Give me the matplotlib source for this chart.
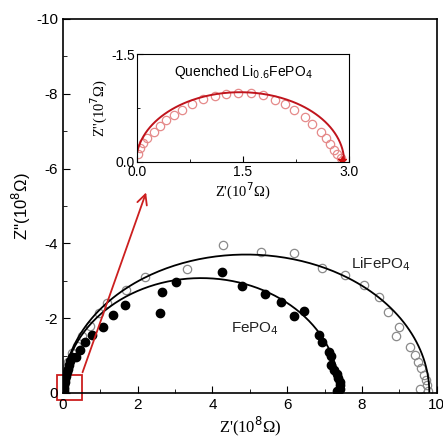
import numpy as np
import matplotlib
matplotlib.use('Agg')
import matplotlib.pyplot as plt
from matplotlib.patches import Rectangle

plt.rcParams['font.family'] = ['Liberation Sans', 'DejaVu Sans']
plt.rcParams['axes.unicode_minus'] = False

# LiFePO4 measured points (Z' in 1e8 ohm, Z'' in 1e8 ohm)
li_x = [0.02, 0.03, 0.05, 0.07, 0.10, 0.14, 0.23, 0.37, 0.50, 0.72, 0.96, 1.19, 1.70, 2.19,
        3.31, 4.27, 5.31, 6.19, 6.92, 7.54, 8.06, 8.45, 8.70, 8.98, 8.92, 9.28, 9.41, 9.50,
        9.59, 9.65, 9.71, 9.75, 9.56, 9.77]
li_y = [-0.10, -0.25, -0.40, -0.55, -0.70, -0.84, -1.06, -1.26, -1.51, -1.79, -2.13, -2.41, -2.75, -3.11,
        -3.31, -3.96, -3.78, -3.75, -3.33, -3.16, -2.89, -2.56, -2.17, -1.77, -1.51, -1.24, -1.02, -0.84,
        -0.66, -0.48, -0.35, -0.21, -0.11, -0.06]

# FePO4 measured points
fe_x = [0.02, 0.03, 0.04, 0.05, 0.06, 0.08, 0.10, 0.13, 0.16, 0.20, 0.25, 0.35, 0.45, 0.59, 0.79,
        1.06, 1.35, 1.66, 2.59, 2.66, 3.02, 4.26, 4.78, 5.40, 5.83, 6.19, 6.44, 6.86, 6.93,
        7.12, 7.17, 7.17, 7.26, 7.32, 7.36, 7.41, 7.42, 7.42, 7.34]
fe_y = [-0.05, -0.12, -0.20, -0.28, -0.36, -0.45, -0.55, -0.65, -0.75, -0.85, -0.95, -0.97, -1.15, -1.35, -1.55,
        -1.77, -2.09, -2.34, -2.15, -2.69, -2.96, -3.24, -2.87, -2.64, -2.44, -2.07, -2.20, -1.55, -1.35,
        -1.10, -0.99, -0.75, -0.62, -0.51, -0.39, -0.30, -0.20, -0.10, -0.04]

# fitted arcs: (centre, x radius, y radius)
li_fit = (4.9, 4.9, 3.7)
fe_fit = (3.7, 3.7, 3.07)

# quenched Li0.6FePO4 (Z' in 1e7 ohm)
q_x = [0.02, 0.04, 0.09, 0.15, 0.24, 0.32, 0.41, 0.53, 0.64, 0.78, 0.93, 1.10, 1.26, 1.43,
       1.61, 1.78, 1.95, 2.09, 2.22, 2.37, 2.48, 2.61, 2.67, 2.73, 2.78, 2.83, 2.88]
q_y = [-0.11, -0.19, -0.26, -0.33, -0.42, -0.50, -0.58, -0.65, -0.72, -0.81, -0.875, -0.92, -0.944, -0.963,
       -0.963, -0.93, -0.86, -0.81, -0.72, -0.63, -0.53, -0.41, -0.33, -0.25, -0.17, -0.11, -0.05]
q_fit = (1.46, 1.47, 0.97)


def arc(p):
    c, rx, ry = p
    t = np.linspace(0, np.pi, 200)
    return c - rx * np.cos(t), -ry * np.sin(t)


fig = plt.figure(figsize=(4.43, 4.40), dpi=100)
ax = fig.add_axes([0.142, 0.107, 0.844, 0.850])

ax.plot(li_x, li_y, 'o', mfc='none', mec='#8a8a8a', ms=6, mew=0.9)
ax.plot(fe_x, fe_y, 'o', color='black', ms=6)
x, y = arc(li_fit)
ax.plot(x, y, color='black', lw=1.3)
x, y = arc(fe_fit)
ax.plot(x, y, color='black', lw=1.3)

ax.text(8.5, -3.45, 'LiFePO$_4$', fontsize=11, ha='center', va='center', color='#222222')
ax.text(5.15, -1.72, 'FePO$_4$', fontsize=11, ha='center', va='center', color='#222222')

ax.add_patch(Rectangle((-0.16, 0.2), 0.66, -0.68, fill=False, ec='#cc1f1f', lw=1.3, clip_on=False))
ax.annotate('', xy=(2.25, -5.43), xytext=(0.5, -0.48),
            arrowprops=dict(arrowstyle='->', color='#cc1f1f', lw=1.3, mutation_scale=18))

ax.set_xlim(0, 10)
ax.set_ylim(0, -10)
ax.set_xticks(range(0, 11, 2))
ax.set_xticks(range(1, 10, 2), minor=True)
ax.set_yticks(range(0, -11, -2))
ax.set_yticks(range(-1, -10, -2), minor=True)
ax.tick_params(which='both', direction='in', top=False, right=False, labelsize=11)
ax.tick_params(which='major', length=5)
ax.tick_params(which='minor', length=3)
for s in ax.spines.values():
    s.set_linewidth(1.2)
ax.set_xlabel("Z'(10$^8$\u03a9)", fontsize=12, family='Liberation Serif', labelpad=2)
ax.set_ylabel("Z''(10$^8$\u03a9)", fontsize=12, labelpad=2)

# inset
ins = fig.add_axes([0.309, 0.632, 0.479, 0.245])
ins.plot(q_x, q_y, 'o', mfc='none', mec='#e58a8a', ms=6, mew=0.9)
x, y = arc(q_fit)
ins.plot(x, y, color='#c0141c', lw=1.4)
ins.plot([2.9], [-0.02], '*', color='#d01010', ms=6)
ins.text(1.5, -1.25, 'Quenched Li$_{0.6}$FePO$_4$', fontsize=10, ha='center', va='center')
ins.set_xlim(0, 3)
ins.set_ylim(0, -1.5)
ins.set_xticks([0, 1.5, 3.0])
ins.set_xticks([0.75, 2.25], minor=True)
ins.set_yticks([0, -1.5])
ins.set_yticks([-0.75], minor=True)
ins.set_xticklabels(['0.0', '1.5', '3.0'])
ins.set_yticklabels(['0.0', '-1.5'])
ins.tick_params(which='both', direction='in', top=False, right=False, labelsize=10)
ins.tick_params(axis='x', pad=2.5)
ins.tick_params(axis='y', pad=1.5)
ins.tick_params(which='major', length=4)
ins.tick_params(which='minor', length=2.5)
ins.set_xlabel("Z'(10$^7$\u03a9)", fontsize=10.5, family='Liberation Serif', labelpad=1)
ins.set_ylabel("Z''(10$^7$\u03a9)", fontsize=10.5, family='Liberation Serif', labelpad=1)

fig.savefig('out.png', dpi=100)
